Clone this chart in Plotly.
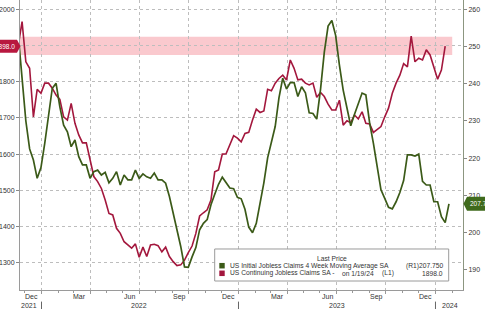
import math
import plotly.graph_objects as go
import pandas as pd

# ---------------- data (weekly) ----------------
week_start = "2021-11-19"

continuing_claims = [1900, 1966, 1855, 1837, 1703, 1779, 1768, 1796, 1796, 1782,
                     1763, 1751, 1703, 1694, 1740, 1685, 1653, 1631, 1631, 1588,
                     1538, 1524, 1505, 1473, 1436, 1432, 1395, 1381, 1358, 1349,
                     1340, 1352, 1315, 1343, 1317, 1349, 1351, 1347, 1330, 1343,
                     1317, 1303, 1292, 1294, 1307, 1328, 1346, 1381, 1429, 1438,
                     1446, 1473, 1551, 1556, 1600, 1601, 1625, 1651, 1644, 1634,
                     1657, 1660, 1694, 1724, 1715, 1719, 1779, 1775, 1796, 1809,
                     1818, 1805, 1860, 1837, 1805, 1807, 1796, 1791, 1796, 1757,
                     1770, 1759, 1738, 1722, 1722, 1749, 1680, 1692, 1687, 1708,
                     1697, 1717, 1685, 1683, 1660, 1669, 1676, 1703, 1727, 1768,
                     1796, 1818, 1850, 1841, 1926, 1855, 1865, 1860, 1888, 1874,
                     1841, 1807, 1832, 1898]

initial_claims_4wk = [253, 241, 230, 222.5, 219.5, 214.6, 217.5, 224, 232, 238.8,
                      240.1, 233.8, 228.9, 227.1, 223.1, 224.9, 220.4, 218.2, 218.2, 214.6,
                      216.4, 216.8, 215.5, 216.2, 213.4, 214.6, 216.4, 212.8, 215.5, 214.2,
                      214.2, 216.8, 214.6, 215.8, 215, 214.6, 216, 214.2, 214.2, 213.3,
                      209.7, 205.2, 200.7, 196.3, 190.8, 190.7, 193.5, 196, 200.8, 202.5,
                      203.5, 207.5, 210.3, 213, 214.9, 213.6, 212, 211.8, 209.5, 209.1,
                      206.3, 201.5, 200, 202.5, 207.5, 213.4, 220.1, 224.5, 228.5, 236.2,
                      241.5, 238.6, 240.3, 240.3, 236.6, 239.2, 237.6, 232.2, 232, 230.5,
                      238.5, 248.5, 255.5, 257, 253, 245, 238.3, 233.5, 228.7, 231.8,
                      234.9, 237.5, 237, 229.5, 224, 218.2, 211.5, 209.2, 206.8, 206.4,
                      208.3, 210.8, 214, 220.9, 220.9, 220.6, 221.1, 213.8, 212.8, 212.8,
                      208.3, 208.3, 204.3, 202.7, 207.75]

left_ticks = [1300, 1400, 1500, 1600, 1700, 1800, 1900, 2000]
right_ticks = [190, 200, 210, 220, 230, 240, 250, 260]
quarter_starts = ["2022-01-01", "2022-04-01", "2022-07-01", "2022-10-01", "2023-01-01",
                  "2023-04-01", "2023-07-01", "2023-10-01", "2024-01-01"]
month_labels = ["Dec", "Mar", "Jun", "Sep", "Dec", "Mar", "Jun", "Sep", "Dec"]
month_label_dates = ["2021-12-14", "2022-03-12", "2022-06-13", "2022-09-14", "2022-12-13",
                     "2023-03-14", "2023-06-14", "2023-09-14", "2023-12-14"]
year_labels = ["2021", "2022", "2023", "2024"]
year_label_dates = ["2021-12-09", "2022-07-01", "2023-07-02", "2024-01-28"]
year_breaks = ["2022-01-01", "2023-01-01", "2024-01-01"]

name_initial = "US Initial Jobless Claims 4 Week Moving Average SA"
name_continuing = "US Continuing Jobless Claims SA -"
last_initial_txt = "207.750"
last_continuing_txt = "1898.0"

# ---------------- styling ----------------
RED = "#a3173d"
GREEN = "#3b5a18"
RED_TAG = "#b8183f"
GREEN_TAG = "#3f6a1c"
FONT = "Liberation Sans, Arial, sans-serif"
LEG = 6.7
x_range = ["2021-11-22 04:00", "2024-02-21"]
yl_range = [1224.6, 2025.7]
yr_range = [184.6, 262.5]

dates = pd.date_range(week_start, periods=len(initial_claims_4wk), freq="7D")

fig = go.Figure()
fig.add_trace(go.Scatter(x=dates[:len(continuing_claims)], y=continuing_claims,
                         mode="lines", line=dict(color=RED, width=1.6),
                         name=name_continuing, yaxis="y"))
fig.add_trace(go.Scatter(x=dates, y=initial_claims_4wk,
                         mode="lines", line=dict(color=GREEN, width=1.7),
                         name=name_initial, yaxis="y2"))

fig.update_layout(
    width=485, height=309,
    margin=dict(l=20, r=22, t=0, b=19),
    paper_bgcolor="white", plot_bgcolor="white",
    showlegend=False,
    font=dict(family=FONT, size=7, color="#333"),
    xaxis=dict(type="date", range=x_range, tickvals=quarter_starts,
               showticklabels=False, ticks="outside", ticklen=3, tickcolor="#999",
               showgrid=True, gridcolor="#bdbdbd", griddash="dot", gridwidth=1,
               showline=True, linecolor="#9a9a9a", zeroline=False,
               minor=dict(ticks="outside", ticklen=2, tickcolor="#999",
                          tickmode="linear", tick0="2021-12-01", dtick="M1",
                          showgrid=False)),
    yaxis=dict(range=yl_range, tickvals=left_ticks,
               ticktext=["" if v == 1900 else str(v) for v in left_ticks],
               ticks="outside", ticklen=3, tickcolor="#888",
               showgrid=True, gridcolor="#bdbdbd", griddash="dot", gridwidth=1,
               showline=True, linecolor="#9a9a9a", zeroline=False,
               tickfont=dict(size=7, color="#333")),
    yaxis2=dict(range=yr_range, tickvals=right_ticks, overlaying="y", side="right",
                ticks="outside", ticklen=3, tickcolor="#888",
                showgrid=False, showline=True, linecolor="#8c9680", zeroline=False,
                tickfont=dict(size=7, color="#333")),
)

shapes = []
annotations = []

# highlighted band around the last continuing-claims value
last_c = continuing_claims[-1]
shapes.append(dict(type="rect", xref="x", yref="y", x0=x_range[0], x1="2024-02-01",
                   y0=last_c - 24, y1=last_c + 26, fillcolor="rgba(240,100,115,0.35)",
                   line=dict(width=0), layer="below"))

# month / year labels under the axis
for d, t in zip(month_label_dates, month_labels):
    annotations.append(dict(x=d, y=-0.024, xref="x", yref="paper", text=t,
                            showarrow=False, yanchor="middle", xanchor="center",
                            font=dict(size=7, color="#333")))
for d, t in zip(year_label_dates, year_labels):
    annotations.append(dict(x=d, y=-0.052, xref="x", yref="paper", text=t,
                            showarrow=False, yanchor="middle", xanchor="center",
                            font=dict(size=7, color="#333")))
for d in year_breaks:
    shapes.append(dict(type="line", xref="x", yref="paper", x0=d, x1=d,
                       y0=-0.040, y1=-0.066, line=dict(color="#666", width=1)))

# value tags on the axes
pw, ph = 443.0, 290.0
yl_last = (last_c - yl_range[0]) / (yl_range[1] - yl_range[0])
half = 6.5 / ph
shapes.append(dict(type="path", xref="paper", yref="paper",
                   path=(f"M {-40/pw},{yl_last+half} L {-3/pw},{yl_last+half} "
                         f"L {0.5/pw},{yl_last} L {-3/pw},{yl_last-half} "
                         f"L {-40/pw},{yl_last-half} Z"),
                   fillcolor=RED_TAG, line=dict(width=0)))
annotations.append(dict(x=-3/pw, y=yl_last, xref="paper", yref="paper",
                        text=last_continuing_txt, showarrow=False, xanchor="right",
                        yanchor="middle", font=dict(size=6.5, color="white")))

last_i = initial_claims_4wk[-1]
yr_last = (last_i - yr_range[0]) / (yr_range[1] - yr_range[0])
half = 7 / ph
shapes.append(dict(type="path", xref="paper", yref="paper",
                   path=(f"M {443.5/pw},{yr_last} L {447/pw},{yr_last+half} "
                         f"L {480/pw},{yr_last+half} L {480/pw},{yr_last-half} "
                         f"L {447/pw},{yr_last-half} Z"),
                   fillcolor=GREEN_TAG, line=dict(width=0)))
annotations.append(dict(x=448/pw, y=yr_last, xref="paper", yref="paper",
                        text=f"{math.floor(last_i * 10) / 10:.1f}", showarrow=False,
                        xanchor="left", yanchor="middle",
                        font=dict(size=6.5, color="white")))

# custom legend box
shapes.append(dict(type="rect", xref="paper", yref="paper", x0=0.4395, x1=0.9677,
                   y0=0.031, y1=0.1414, fillcolor="white",
                   line=dict(color="#9a9a9a", width=1), layer="above"))
annotations.append(dict(x=0.7043, y=0.1103, xref="paper", yref="paper",
                        text="Last Price", showarrow=False, xanchor="center",
                        yanchor="middle", font=dict(size=LEG, color="#333")))
rows = [(0.0838, GREEN, name_initial, "(R1)", 0.8661, "", last_initial_txt),
        (0.0576, RED, name_continuing, "(L1)", 0.8126, "on 1/19/24", last_continuing_txt)]
for y, col, nm, ref, refx, extra, val in rows:
    shapes.append(dict(type="rect", xref="paper", yref="paper", x0=0.4499, x1=0.4621,
                       y0=y - 0.0095, y1=y + 0.0095, fillcolor=col,
                       line=dict(width=0), layer="above"))
    annotations.append(dict(x=0.4695, y=y, xref="paper", yref="paper", text=nm,
                            showarrow=False, xanchor="left", yanchor="middle",
                            font=dict(size=LEG, color="#333")))
    annotations.append(dict(x=refx, y=y, xref="paper", yref="paper", text=ref,
                            showarrow=False, xanchor="left", yanchor="middle",
                            font=dict(size=LEG, color="#333")))
    if extra:
        annotations.append(dict(x=0.7223, y=y, xref="paper", yref="paper", text=extra,
                                showarrow=False, xanchor="left", yanchor="middle",
                                font=dict(size=LEG, color="#333")))
    annotations.append(dict(x=0.9587, y=y, xref="paper", yref="paper", text=val,
                            showarrow=False, xanchor="right", yanchor="middle",
                            font=dict(size=LEG, color="#333")))

fig.update_layout(shapes=shapes, annotations=annotations)
fig.write_html("out.html")
